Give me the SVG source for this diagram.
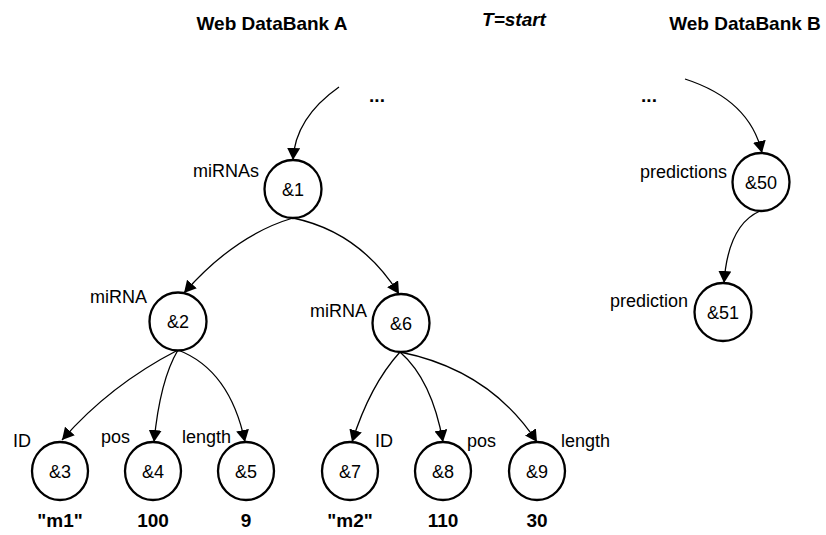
<svg xmlns="http://www.w3.org/2000/svg" width="826" height="535" viewBox="0 0 826 535">
<style>
.n{fill:#fff;stroke:#000;stroke-width:2.3}
.t{font-family:"Liberation Sans",Arial,sans-serif;font-size:18px;text-anchor:middle;fill:#000}
.l{font-family:"Liberation Sans",Arial,sans-serif;font-size:18px;fill:#000}
.e{text-anchor:end}
.b{font-family:"Liberation Sans",Arial,sans-serif;font-size:19px;font-weight:bold;text-anchor:middle;fill:#000}
.c{fill:none;stroke:#000;stroke-width:1.3;marker-end:url(#a)}
</style>
<defs>
<marker id="a" viewBox="0 0 12 13" refX="12" refY="6.5" markerWidth="12" markerHeight="13" markerUnits="userSpaceOnUse" orient="auto">
<path d="M0,0 L12,6.5 L0,13 z" fill="#000"/>
</marker>
</defs>
<text class="b" x="272" y="30">Web DataBank A</text>
<text class="b" x="514" y="26" font-style="italic" font-size="23">T=start</text>
<text class="b" x="745" y="30">Web DataBank B</text>
<text class="b" x="377" y="102" font-size="26">...</text>
<text class="b" x="649" y="102" font-size="26">...</text>
<g id="connectors">
<path class="c" d="M339,87 Q295,118 293,160"/>
<path class="c" d="M685,79 Q750,100 762,153"/>
<path class="c" d="M760,211 Q728,225 724,283"/>
<path class="c" d="M293,218 Q235,235 184,293"/>
<path class="c" d="M293,218 Q360,232 399,294"/>
<path class="c" d="M178,350 Q110,385 62,440"/>
<path class="c" d="M178,350 Q160,380 154,442"/>
<path class="c" d="M178,350 Q230,370 245,442"/>
<path class="c" d="M400,352 Q370,385 352,442"/>
<path class="c" d="M400,352 Q432,380 443,442"/>
<path class="c" d="M400,352 Q490,370 537,442"/>
</g>
<g id="n1"><ellipse class="n" cx="293" cy="189" rx="28.5" ry="29"/><text class="t" x="293" y="195.5">&amp;1</text><text class="l e" x="259" y="177">miRNAs</text></g>
<g id="n2"><ellipse class="n" cx="178" cy="321.5" rx="28.5" ry="29"/><text class="t" x="178" y="328">&amp;2</text><text class="l e" x="147" y="303">miRNA</text></g>
<g id="n6"><ellipse class="n" cx="401" cy="323" rx="28.5" ry="29"/><text class="t" x="401" y="329.5">&amp;6</text><text class="l e" x="367" y="317">miRNA</text></g>
<g id="n50"><ellipse class="n" cx="761" cy="182" rx="28.5" ry="29"/><text class="t" x="761" y="188.5">&amp;50</text><text class="l e" x="727" y="178">predictions</text></g>
<g id="n51"><ellipse class="n" cx="723" cy="312" rx="28.5" ry="29"/><text class="t" x="723" y="318.5">&amp;51</text><text class="l e" x="688" y="307">prediction</text></g>
<g id="n3"><ellipse class="n" cx="60" cy="471" rx="28" ry="29"/><text class="t" x="60" y="477.5">&amp;3</text><text class="l" x="13" y="447">ID</text><text class="b" x="60" y="527">"m1"</text></g>
<g id="n4"><ellipse class="n" cx="153" cy="471" rx="28" ry="29"/><text class="t" x="153" y="477.5">&amp;4</text><text class="l" x="101" y="443">pos</text><text class="b" x="153" y="527">100</text></g>
<g id="n5"><ellipse class="n" cx="246" cy="471" rx="28" ry="29"/><text class="t" x="246" y="477.5">&amp;5</text><text class="l" x="182" y="443">length</text><text class="b" x="246" y="527">9</text></g>
<g id="n7"><ellipse class="n" cx="350" cy="471" rx="28" ry="29"/><text class="t" x="350" y="477.5">&amp;7</text><text class="l" x="375" y="447">ID</text><text class="b" x="350" y="527">"m2"</text></g>
<g id="n8"><ellipse class="n" cx="443" cy="471" rx="28" ry="29"/><text class="t" x="443" y="477.5">&amp;8</text><text class="l" x="467" y="447">pos</text><text class="b" x="443" y="527">110</text></g>
<g id="n9"><ellipse class="n" cx="537" cy="471" rx="28" ry="29"/><text class="t" x="537" y="477.5">&amp;9</text><text class="l" x="561" y="447">length</text><text class="b" x="537" y="527">30</text></g>
</svg>
